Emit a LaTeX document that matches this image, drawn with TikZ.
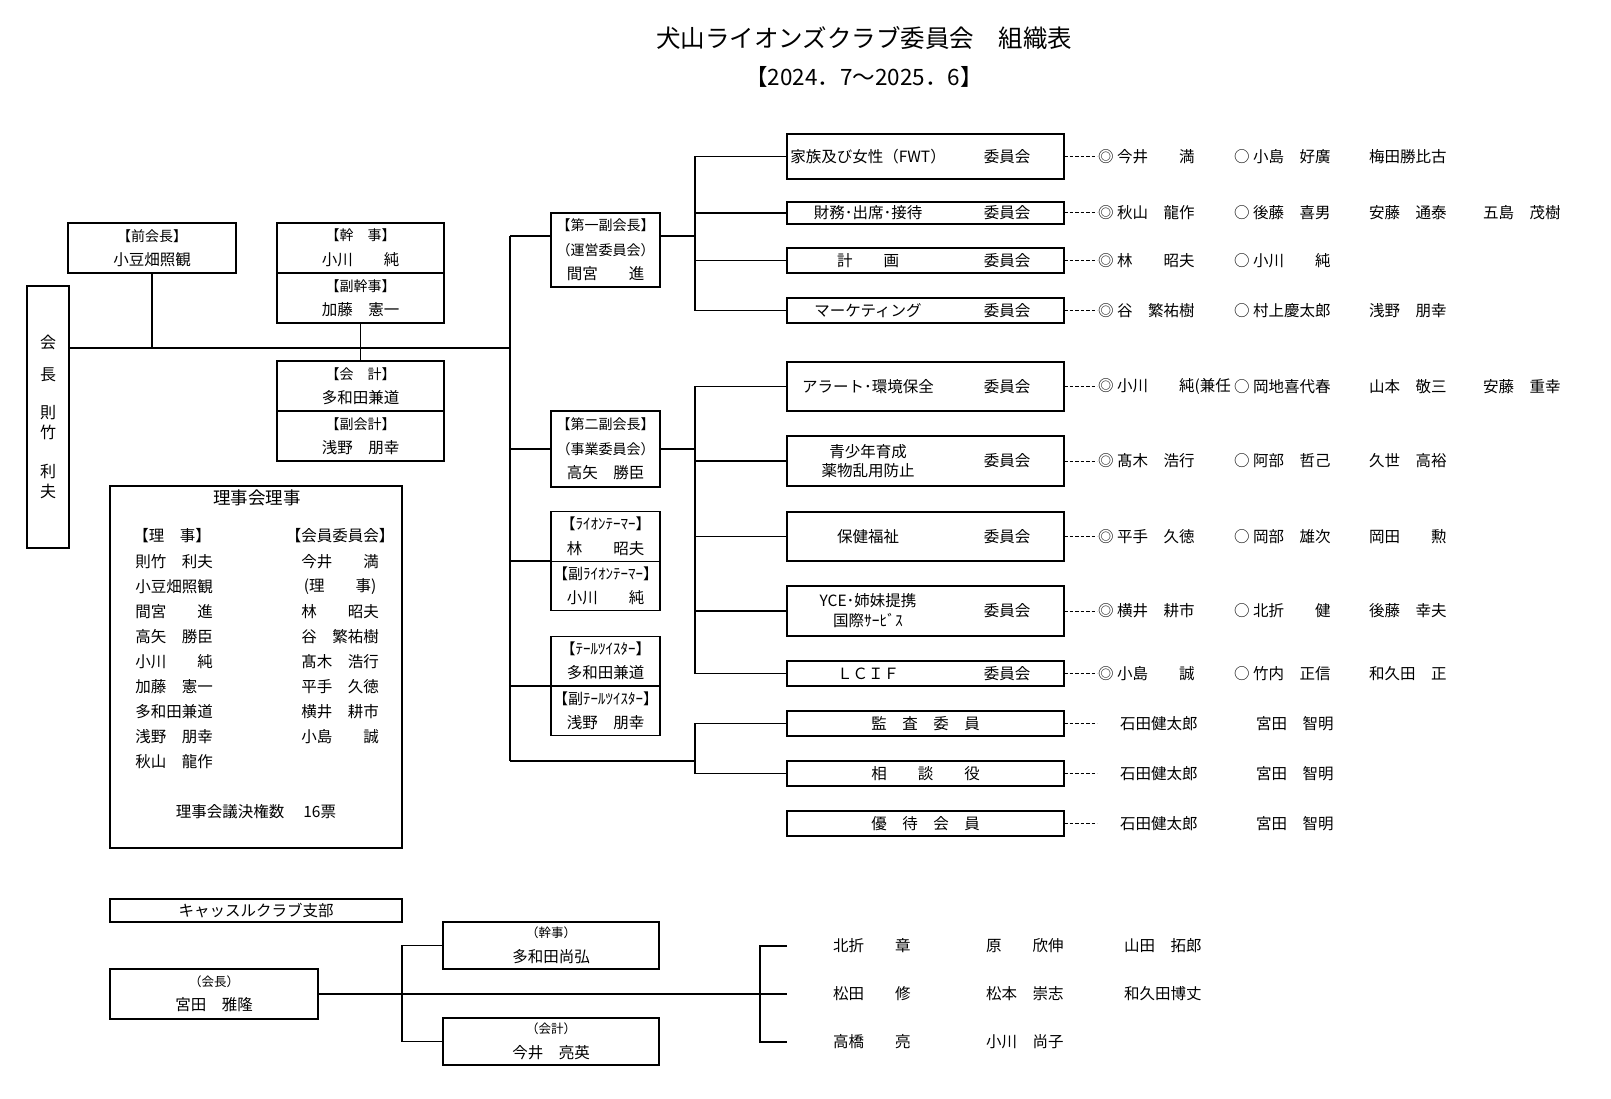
\documentclass[tikz,border=0pt]{standalone}
\usepackage{fontspec}
\setmainfont{Noto Sans CJK JP}
\usetikzlibrary{calc}
\tikzstyle{box}=[draw,line width=1.3pt,inner sep=0pt,outer sep=0pt,align=center]
\tikzstyle{lbox}=[box,minimum width=167pt,minimum height=50pt]
\tikzstyle{obox}=[box,minimum width=109pt,minimum height=49.5pt]
\tikzstyle{cbox}=[box,minimum width=277pt]
\tikzstyle{link}=[line width=1.2pt]
\tikzstyle{dots}=[line width=1pt,dash pattern=on 3.5pt off 2pt]
\tikzstyle{txt}=[inner sep=0pt,align=center]
\tikzstyle{mem}=[inner sep=0pt,anchor=west]
\newcommand{\lb}[1]{{\fontsize{14}{24.5}\selectfont #1}}
\newcommand{\lbk}[1]{{\fontsize{15}{24.5}\selectfont #1}}
\newcommand{\sm}[1]{{\fontsize{12.5}{24.5}\selectfont #1}}
\newcommand{\committee}[5][]{
\node[cbox,minimum height=#4pt] (#2) at (925.5,#3) {};
\node[txt,#1] (#2l) at (868,#3) {#5};
\node[txt] (#2r) at (1007,#3) {委員会};
}
\newcommand{\members}[5]{
\coordinate (#1d) at (#1.east -| 1097,0);
\draw[dots] (#1.east) -- (#1d);
\node[mem] (#1a) at (#1.east -| 1098,0) {#2};
\node[mem] (#1b) at (#1.east -| 1234,0) {#3};
\node[mem] (#1c) at (#1.east -| 1369,0) {#4};
\node[mem] (#1e) at (#1.east -| 1483,0) {#5};
}
\newcommand{\advisers}[1]{
\coordinate (#1d) at (#1.east -| 1097,0);
\draw[dots] (#1.east) -- (#1d);
\node[mem] (#1a) at (#1.east -| 1120,0) {石田健太郎};
\node[mem] (#1b) at (#1.east -| 1256,0) {宮田　智明};
}
\begin{document}
\begin{tikzpicture}[x=1pt,y=-1pt,font=\fontsize{15.5}{24.5}\selectfont]
\useasboundingbox[fill=white] (0,0) rectangle (1611,1099);
\node[txt,font=\fontsize{24.5}{26}\selectfont] (title) at (864,38) {犬山ライオンズクラブ委員会　組織表};
\node[txt,font=\fontsize{22.5}{24}\selectfont] (term) at (864,77) {【2024．7～2025．6】};

% president and officers
\node[box,minimum width=42pt,minimum height=262pt,font=\fontsize{16}{19.5}\selectfont] (kaicho) at (48,417) {会\\[12pt]長\\[19pt]則\\竹\\[20pt]利\\夫};
\node[box,minimum width=168pt,minimum height=50pt] (zenkai) at (152,248) {\lb{【前会長】}\\小豆畑照観};
\node[lbox] (kanji) at (360.5,248) {\lb{【幹　事】}\\小川　　純};
\node[lbox] (fukukanji) at (360.5,298) {\lb{【副幹事】}\\加藤　憲一};
\node[lbox] (kaikei) at (360.5,386) {\lb{【会　計】}\\多和田兼道};
\node[lbox] (fukukaikei) at (360.5,436) {\lb{【副会計】}\\浅野　朋幸};

\node[obox,minimum height=74pt] (dai1) at (605.5,250) {\lb{【第一副会長】}\\\lb{（運営委員会）}\\間宮　　進};
\node[obox,minimum height=76pt] (dai2) at (605.5,449) {\lb{【第二副会長】}\\\lb{（事業委員会）}\\高矢　勝臣};
\node[obox] (lion) at (605.5,536.5) {\lbk{【ﾗｲｵﾝﾃｰﾏｰ】}\\林　　昭夫};
\node[obox] (fukulion) at (605.5,586) {\lbk{【副ﾗｲｵﾝﾃｰﾏｰ】}\\小川　　純};
\node[obox] (tail) at (605.5,661) {\lbk{【ﾃｰﾙﾂｲｽﾀｰ】}\\多和田兼道};
\node[obox] (fukutail) at (605.5,711) {\lbk{【副ﾃｰﾙﾂｲｽﾀｰ】}\\浅野　朋幸};

% board of directors
\node[box,minimum width=292pt,minimum height=362pt] (riji) at (256,667) {};
\node[txt,font=\fontsize{17.5}{18}\selectfont] (rijit) at (257,498) {理事会理事};
\node[txt] (rijih) at (172,536) {【理　事】};
\node[txt] (kaiinh) at (340,536) {【会員委員会】};
\foreach \nm [count=\i] in {則竹　利夫,小豆畑照観,間宮　　進,高矢　勝臣,小川　　純,加藤　憲一,多和田兼道,浅野　朋幸,秋山　龍作}
  \node[txt] (riji\i) at (174,537+25*\i) {\nm};
\foreach \nm [count=\i] in {今井　　満,(理　　事),林　　昭夫,谷　繁祐樹,髙木　浩行,平手　久徳,横井　耕市,小島　　誠}
  \node[txt] (kaiin\i) at (340,537+25*\i) {\nm};
\node[txt] (votes) at (256,812) {理事会議決権数　 16票};

% committees
\committee{fwt}{156.5}{45}{家族及び女性（FWT）}
\committee{zaimu}{213}{22}{財務･出席･接待}
\committee{keikaku}{260.5}{25}{計　　画}
\committee{mkt}{310.5}{25}{マーケティング}
\committee{alert}{386.5}{49}{アラート･環境保全}
\committee[font=\fontsize{15.5}{18.5}\selectfont]{seisho}{461}{50}{青少年育成\\薬物乱用防止}
\committee{hoken}{536.5}{49}{保健福祉}
\committee[font=\fontsize{15.5}{20}\selectfont]{yce}{611}{50}{YCE･姉妹提携\\国際ｻｰﾋﾞｽ}
\committee{lcif}{673.5}{25}{ＬＣＩＦ}
\node[cbox,minimum height=25pt] (kansa) at (925.5,723.5) {監　査　委　員};
\node[cbox,minimum height=25pt] (sodan) at (925.5,773.5) {相　　談　　役};
\node[cbox,minimum height=25pt] (yutai) at (925.5,823.5) {優　待　会　員};

\members{fwt}{◎ 今井　　満}{○ 小島　好廣}{梅田勝比古}{}
\members{zaimu}{◎ 秋山　龍作}{○ 後藤　喜男}{安藤　通泰}{五島　茂樹}
\members{keikaku}{◎ 林　　昭夫}{○ 小川　　純}{}{}
\members{mkt}{◎ 谷　繁祐樹}{○ 村上慶太郎}{浅野　朋幸}{}
\members{alert}{◎ 小川　　純(兼任}{○ 岡地喜代春}{山本　敬三}{安藤　重幸}
\members{seisho}{◎ 髙木　浩行}{○ 阿部　哲己}{久世　高裕}{}
\members{hoken}{◎ 平手　久徳}{○ 岡部　雄次}{岡田　　勲}{}
\members{yce}{◎ 横井　耕市}{○ 北折　　健}{後藤　幸夫}{}
\members{lcif}{◎ 小島　　誠}{○ 竹内　正信}{和久田　正}{}
\advisers{kansa}
\advisers{sodan}
\advisers{yutai}

% trunk
\coordinate (t1) at (510,236);
\coordinate (t2) at (510,348);
\coordinate (t3) at (510,449);
\coordinate (t4) at (510,561);
\coordinate (t5) at (510,686);
\coordinate (t6) at (510,761);
\draw[link] (t1) -- (t6);
\draw[link] (kaicho.east |- t2) -- (t2);
\draw[link] (zenkai.south) -- (zenkai.south |- t2);
\draw[link] (fukukanji.south) -- (kaikei.north);
\draw[link] (t1) -- (t1 -| dai1.west);
\draw[link] (t3) -- (dai2.west);
\draw[link] (t4) -- (t4 -| lion.west);
\draw[link] (t5) -- (t5 -| tail.west);

\coordinate (b1) at (695,236);
\coordinate (b2) at (695,449);
\coordinate (b3) at (695,761);
\draw[link] (b1 -| dai1.east) -- (b1);
\draw[link] (fwt.west) -| (b1) |- (mkt.west);
\foreach \c in {zaimu,keikaku} \draw[link] (\c.west) -- (\c.west -| b1);
\draw[link] (dai2.east) -- (b2);
\draw[link] (alert.west) -| (b2) |- (lcif.west);
\foreach \c in {seisho,hoken,yce} \draw[link] (\c.west) -- (\c.west -| b2);
\draw[link] (t6) -- (b3);
\draw[link] (kansa.west) -| (b3) |- (sodan.west);

% castle club
\node[box,minimum width=292pt,minimum height=23pt] (castle) at (256,910.5) {キャッスルクラブ支部};
\node[box,minimum width=208pt,minimum height=50pt] (ckaicho) at (214,994) {\sm{（会長）}\\宮田　雅隆};
\node[box,minimum width=216pt,minimum height=47pt] (ckanji) at (551,945.5) {\sm{（幹事）}\\多和田尚弘};
\node[box,minimum width=216pt,minimum height=47pt] (ckaikei) at (551,1041.5) {\sm{（会計）}\\今井　亮英};
\coordinate (cj) at (402,994);
\coordinate (cr) at (760,994);
\coordinate (r1) at (787,946);
\coordinate (r2) at (787,994);
\coordinate (r3) at (787,1042);
\draw[link] (ckaicho.east) -- (cr);
\draw[link] (ckanji.west) -| (cj) |- (ckaikei.west);
\draw[link] (r1) -| (cr) |- (r3);
\draw[link] (cr) -- (r2);
\foreach \a/\b/\c [count=\i] in {北折　　章/原　　欣伸/山田　拓郎,松田　　修/松本　崇志/和久田博丈,高橋　　亮/小川　尚子/{}} {
  \node[mem] (ca\i) at (833,898+48*\i) {\a};
  \node[mem] (cb\i) at (986,898+48*\i) {\b};
  \node[mem] (cc\i) at (1124,898+48*\i) {\c};
}
\end{tikzpicture}
\end{document}
